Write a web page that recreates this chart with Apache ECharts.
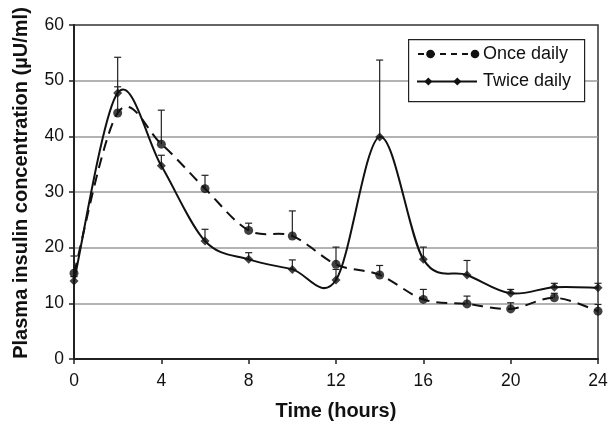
<!DOCTYPE html>
<html>
<head>
<meta charset="utf-8">
<script src="https://cdn.jsdelivr.net/npm/echarts@6/dist/echarts.min.js"></script>
<style>
html,body{margin:0;padding:0;background:#fff;}
#chart{width:608px;height:422px;}
</style>
</head>
<body>
<div id="chart"></div>
<script>
// ---- data ----
const time = [0, 2, 4, 6, 8, 10, 12, 14, 16, 18, 20, 22, 24];
const onceDaily = [15.4, 44.2, 38.6, 30.6, 23.1, 22.1, 17.0, 15.1, 10.7, 9.9, 9.0, 11.0, 8.6];
const onceUpper = [18.5, 48.9, 44.7, 33.0, 24.4, 26.6, 20.1, 16.8, 12.5, 11.3, 10.1, 11.8, 9.8];
const twiceDaily = [14.0, 47.8, 34.7, 21.2, 17.9, 16.1, 14.2, 39.9, 17.9, 15.1, 11.8, 12.9, 12.8];
const twiceUpper = [14.8, 54.2, 36.6, 23.3, 19.1, 17.8, 16.1, 53.7, 20.1, 17.7, 12.5, 13.6, 13.6];
const xTickLabels = ['0', '4', '8', '12', '16', '20', '24'];
const yTickLabels = ['0', '10', '20', '30', '40', '50', '60'];
const seriesNames = ['Once daily', 'Twice daily'];
const xTitle = 'Time (hours)';
const yTitle = 'Plasma insulin concentration (\u00b5U/ml)';

const INK = '#111';
const FONT = '"Liberation Sans", Arial, sans-serif';

function pairs(vals) { return time.map((t, i) => [t, vals[i]]); }

// Excel-style smoothed curve through the data points (via axis scales)
function curveRenderer(vals, dashed) {
  return function (params, api) {
    if (params.dataIndex !== 0) return null;
    const pts = time.map((t, i) => api.coord([t, vals[i]]));
    let d = 'M' + pts[0][0] + ',' + pts[0][1];
    for (let i = 0; i < pts.length - 1; i++) {
      const p0 = pts[Math.max(i - 1, 0)], p1 = pts[i], p2 = pts[i + 1], p3 = pts[Math.min(i + 2, pts.length - 1)];
      const c1x = p1[0] + (p2[0] - p0[0]) / 6, c1y = p1[1] + (p2[1] - p0[1]) / 6;
      const c2x = p2[0] - (p3[0] - p1[0]) / 6, c2y = p2[1] - (p3[1] - p1[1]) / 6;
      d += ' C' + c1x + ',' + c1y + ' ' + c2x + ',' + c2y + ' ' + p2[0] + ',' + p2[1];
    }
    return {
      type: 'path',
      shape: { pathData: d },
      style: { fill: null, stroke: INK, lineWidth: 2, lineDash: dashed ? [11, 7] : null }
    };
  };
}

function errRenderer(params, api) {
  const x = api.value(0), lo = api.value(1), hi = api.value(2);
  const a = api.coord([x, lo]), b = api.coord([x, hi]);
  const w = 3.5;
  const st = { stroke: '#222', lineWidth: 1.2 };
  return {
    type: 'group',
    children: [
      { type: 'line', shape: { x1: a[0], y1: a[1], x2: b[0], y2: b[1] }, style: st },
      { type: 'line', shape: { x1: b[0] - w, y1: b[1], x2: b[0] + w, y2: b[1] }, style: st }
    ]
  };
}

const chart = echarts.init(document.getElementById('chart'), null, { renderer: 'canvas' });

// legend drawn as graphic (two markers per sample like the original)
const LX = 408, LY = 39;
const legendGraphic = [
  { type: 'rect', left: LX, top: LY, z: 100, shape: { width: 176, height: 62 }, style: { fill: '#fff', stroke: '#222', lineWidth: 1.2 } },
  { type: 'line', z: 101, shape: { x1: LX + 10, y1: LY + 15, x2: LX + 69, y2: LY + 15 }, style: { stroke: INK, lineWidth: 2, lineDash: [6, 5] } },
  { type: 'circle', z: 102, shape: { cx: LX + 22.5, cy: LY + 15, r: 4.3 }, style: { fill: INK } },
  { type: 'circle', z: 102, shape: { cx: LX + 67, cy: LY + 15, r: 4.3 }, style: { fill: INK } },
  { type: 'text', z: 102, x: LX + 75, y: LY + 15, style: { text: seriesNames[0], font: '18px ' + FONT, fill: INK, verticalAlign: 'middle' } },
  { type: 'line', z: 101, shape: { x1: LX + 9, y1: LY + 42.5, x2: LX + 69, y2: LY + 42.5 }, style: { stroke: INK, lineWidth: 2 } },
  { type: 'polygon', z: 102, shape: { points: [[LX + 20.3, LY + 38.5], [LX + 24.3, LY + 42.5], [LX + 20.3, LY + 46.5], [LX + 16.3, LY + 42.5]] }, style: { fill: INK } },
  { type: 'polygon', z: 102, shape: { points: [[LX + 49.3, LY + 38.5], [LX + 53.3, LY + 42.5], [LX + 49.3, LY + 46.5], [LX + 45.3, LY + 42.5]] }, style: { fill: INK } },
  { type: 'text', z: 102, x: LX + 75, y: LY + 42.5, style: { text: seriesNames[1], font: '18px ' + FONT, fill: INK, verticalAlign: 'middle' } }
];

chart.setOption({
  animation: false,
  backgroundColor: '#fff',
  grid: { left: 74, right: 10, top: 25, bottom: 63, show: true, borderColor: '#333', borderWidth: 1.5, backgroundColor: 'transparent', containLabel: false, outerBoundsMode: 'none' },
  xAxis: {
    type: 'value', min: 0, max: 24, interval: 4,
    name: xTitle, nameLocation: 'middle', nameGap: 42,
    nameTextStyle: { fontFamily: FONT, fontSize: 20, fontWeight: 'bold', color: INK },
    axisLine: { show: true, lineStyle: { color: '#222', width: 2 } },
    axisTick: { show: true, inside: false, length: 5, lineStyle: { color: '#222', width: 1.5 } },
    axisLabel: { margin: 13, fontFamily: FONT, fontSize: 17.5, color: INK, formatter: (v) => xTickLabels[Math.round(v / 4)] },
    splitLine: { show: false }
  },
  yAxis: {
    type: 'value', min: 0, max: 60, interval: 10,
    name: yTitle, nameLocation: 'middle', nameGap: 43, nameRotate: 90,
    nameTextStyle: { fontFamily: FONT, fontSize: 20, fontWeight: 'bold', color: INK, padding: [0, 0, 0, 18] },
    axisLine: { show: true, lineStyle: { color: '#222', width: 2 } },
    axisTick: { show: true, inside: false, length: 5, lineStyle: { color: '#222', width: 1.5 } },
    axisLabel: { margin: 10, fontFamily: FONT, fontSize: 17.5, color: INK, formatter: (v) => yTickLabels[Math.round(v / 10)] },
    splitLine: { show: true, showMinLine: false, showMaxLine: false, lineStyle: { color: '#9a9a9a', width: 1.5 } }
  },
  graphic: legendGraphic,
  series: [
    { name: seriesNames[0] + ' err', type: 'custom', renderItem: errRenderer, data: time.map((t, i) => [t, onceDaily[i], onceUpper[i]]), encode: { x: 0, y: [1, 2] }, z: 2, silent: true },
    { name: seriesNames[1] + ' err', type: 'custom', renderItem: errRenderer, data: time.map((t, i) => [t, twiceDaily[i], twiceUpper[i]]), encode: { x: 0, y: [1, 2] }, z: 2, silent: true },
    { name: seriesNames[0], type: 'custom', renderItem: curveRenderer(onceDaily, true), data: pairs(onceDaily), encode: { x: 0, y: 1 }, z: 3, silent: true },
    { name: seriesNames[1], type: 'custom', renderItem: curveRenderer(twiceDaily, false), data: pairs(twiceDaily), encode: { x: 0, y: 1 }, z: 3, silent: true },
    { name: seriesNames[0] + ' points', type: 'scatter', data: pairs(onceDaily), symbol: 'circle', symbolSize: 9, itemStyle: { color: INK }, z: 4, silent: true },
    { name: seriesNames[1] + ' points', type: 'scatter', data: pairs(twiceDaily), symbol: 'diamond', symbolSize: 9, itemStyle: { color: INK }, z: 4, silent: true }
  ]
});
</script>
</body>
</html>
